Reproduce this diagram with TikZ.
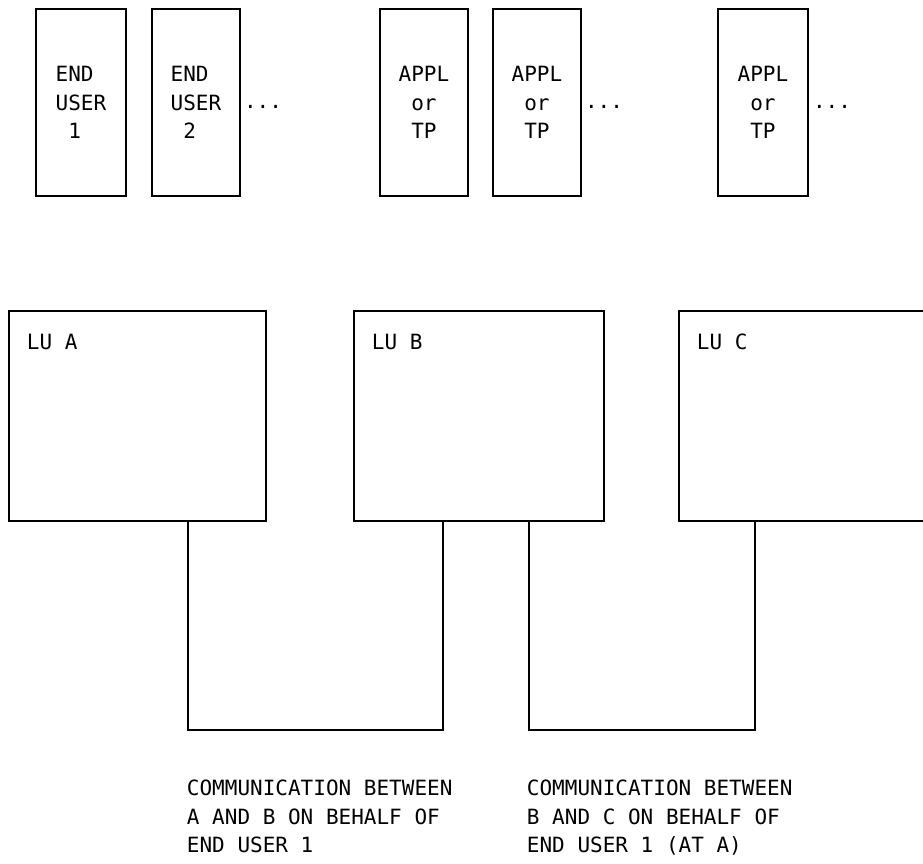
\documentclass[tikz,border=0pt]{standalone}
\usepackage{fontspec}
\newfontfamily\ibmfont{DejaVu Sans Mono}
\begin{document}
\begin{tikzpicture}[x=1pt,y=-1pt,
  line width=1.9pt,
  every node/.style={font=\ibmfont\fontsize{21}{28.5}\selectfont},
  topbox/.style={draw, minimum height=187pt, inner sep=0pt, align=left, anchor=north west},
  lubox/.style={draw, minimum height=210pt, inner sep=0pt, anchor=north west},
  lbl/.style={anchor=north west, inner sep=0pt, align=left},
  dots/.style={inner sep=0pt}
]
\useasboundingbox (0,0) rectangle (923,864);
% top row
\node[topbox, minimum width=90pt] (eu1) at (35,8) {END\\USER\\\hphantom{0}1};
\node[topbox, minimum width=88pt] (eu2) at (151,8) {END\\USER\\\hphantom{0}2};
\node[dots] (d1) at (263,107) {...};
\node[topbox, minimum width=88pt] (ap1) at (379,8) {APPL\\\hphantom{0}or\\\hphantom{0}TP};
\node[topbox, minimum width=88pt] (ap2) at (492,8) {APPL\\\hphantom{0}or\\\hphantom{0}TP};
\node[dots] (d2) at (604,107) {...};
\node[topbox, minimum width=90pt] (ap3) at (717,8) {APPL\\\hphantom{0}or\\\hphantom{0}TP};
\node[dots] (d3) at (832,107) {...};
% LU boxes
\node[lubox, minimum width=257pt] (lua) at (8,310) {};
\node[lubox, minimum width=250pt] (lub) at (353,310) {};
\node[lubox, minimum width=262pt] (luc) at (678,310) {};
\node[lbl] (luat) at (26,333) {LU A};
\node[lbl] (lubt) at (371,333) {LU B};
\node[lbl] (luct) at (696,333) {LU C};
% connections
\coordinate (j1a) at (188,730);
\coordinate (j1b) at (443,730);
\coordinate (j2a) at (529,730);
\coordinate (j2b) at (755,730);
\draw (lua.south -| j1a) -- (j1a) -- (j1b) -- (lub.south -| j1b);
\draw (lub.south -| j2a) -- (j2a) -- (j2b) -- (luc.south -| j2b);
% captions
\node[lbl] (cap1) at (186,779) {COMMUNICATION BETWEEN\\A AND B ON BEHALF OF\\END USER 1};
\node[lbl] (cap2) at (526,779) {COMMUNICATION BETWEEN\\B AND C ON BEHALF OF\\END USER 1 (AT A)};
\end{tikzpicture}
\end{document}
